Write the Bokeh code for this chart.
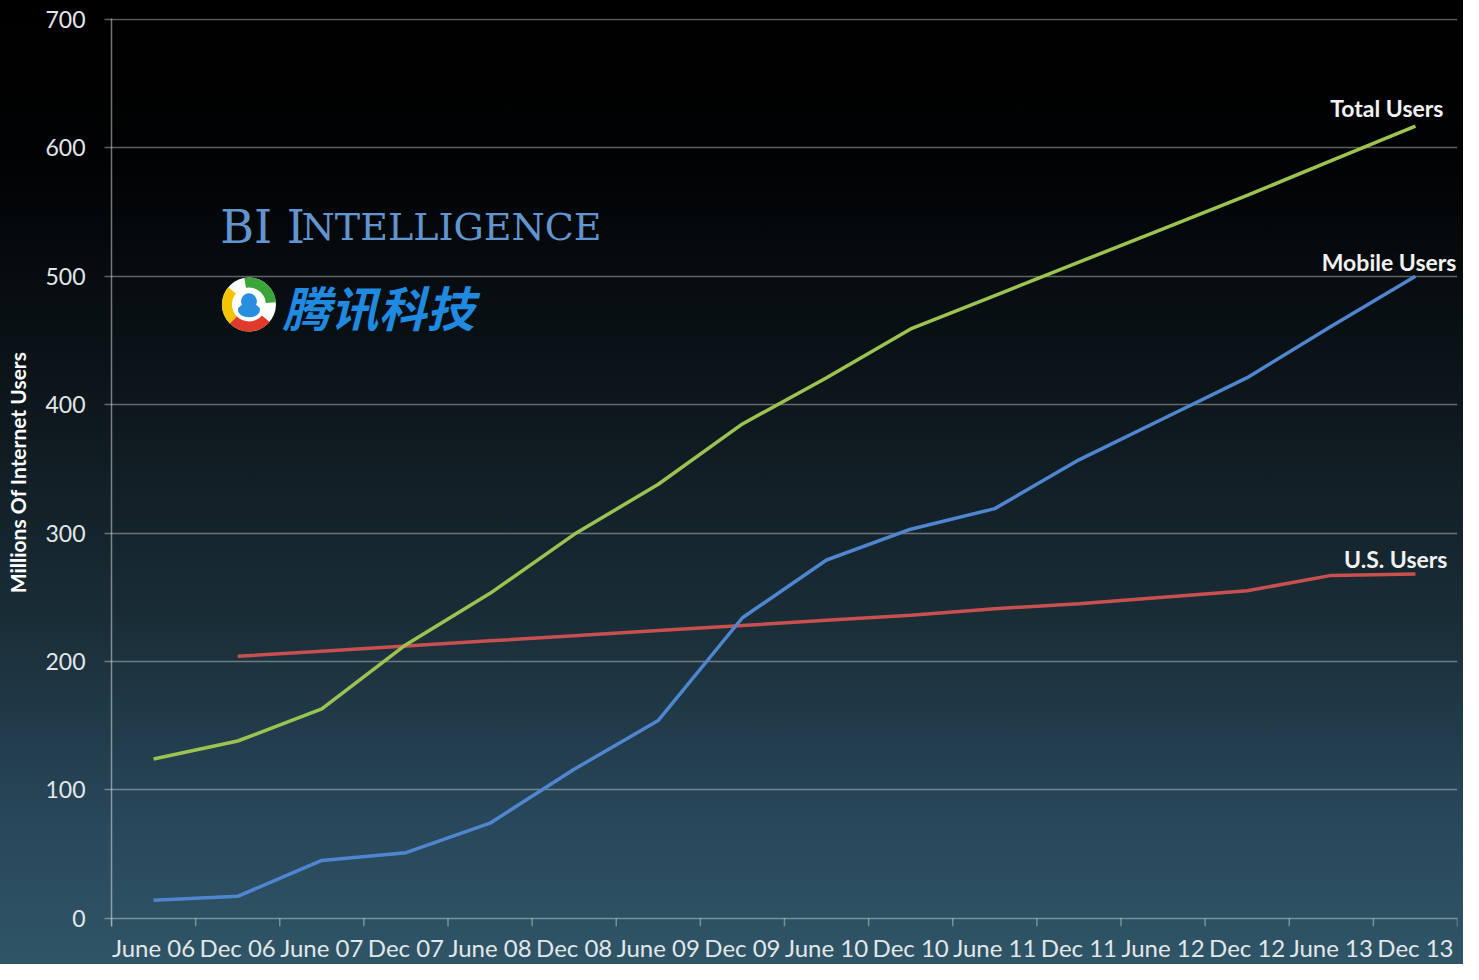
import numpy as np
from bokeh.plotting import figure
from bokeh.models import (FactorRange, Range1d, FixedTicker, ColumnDataSource, Label)
from bokeh.core.properties import value
from bokeh.transform import dodge
from bokeh.embed import file_html
from bokeh.resources import INLINE

# ---------------- data ----------------
categories = ["June 06", "Dec 06", "June 07", "Dec 07", "June 08", "Dec 08",
              "June 09", "Dec 09", "June 10", "Dec 10", "June 11", "Dec 11",
              "June 12", "Dec 12", "June 13", "Dec 13"]
total_users = [124, 138, 163, 213, 253, 299, 338, 385, 421, 459, 485, 511, 537, 563, 590, 617]
mobile_users = [14, 17, 45, 51, 74, 116, 154, 234, 279, 303, 319, 357, 389, 421, 461, 500]
us_users = [np.nan, 204, 208, 212, 216, 220, 224, 228, 232, 236, 241, 245, 250, 255, 267, 268]
y_ticks = [0, 100, 200, 300, 400, 500, 600, 700]
series_names = ["Total Users", "Mobile Users", "U.S. Users"]
y_title = "Millions Of Internet Users"

# ---------------- style ----------------
GREEN = "#9cc352"
BLUE = "#4f86cf"
RED = "#c9504f"
GRID = "#ffffff"
GRID_ALPHA = 0.36
TICK_TXT = "#e2e7ea"
FONT = "Lato"
TICK_DEPTH = -6.5   # x-axis tick marks hang below the zero line

W, H = 1463, 964
p = figure(width=W, height=H,
           x_range=FactorRange(*categories, range_padding=0, factor_padding=0),
           y_range=Range1d(TICK_DEPTH, 700.8),
           output_backend="svg", toolbar_location=None,
           x_axis_location="below", y_axis_location="left",
           min_border_left=111, min_border_right=6,
           min_border_top=18, min_border_bottom=36)

p.background_fill_color = None
p.border_fill_color = None
p.outline_line_color = None
p.styles = {"background-image":
            "linear-gradient(to bottom, #000000 0%, #010203 16%, #0c151a 40%, "
            "#1a2e38 65%, #28475a 85%, #2f5566 100%)"}

# grids
p.xgrid.visible = False
p.ygrid.grid_line_color = GRID
p.ygrid.grid_line_alpha = GRID_ALPHA
p.ygrid.grid_line_width = 1.5

# y axis
ya = p.yaxis[0]
ya.ticker = FixedTicker(ticks=y_ticks)
ya.axis_label = y_title
ya.axis_label_text_font = FONT
ya.axis_label_text_font_style = "bold"
ya.axis_label_text_font_size = "21px"
ya.axis_label_text_color = "#ffffff"
ya.axis_label_standoff = 12
ya.major_label_text_font = FONT
ya.major_label_text_font_size = "23px"
ya.major_label_text_color = TICK_TXT
ya.major_label_standoff = 19
ya.major_tick_in = 0
ya.major_tick_out = 7
ya.major_tick_line_color = GRID
ya.major_tick_line_alpha = GRID_ALPHA
ya.major_tick_line_width = 1.5
ya.minor_tick_line_color = None
ya.axis_line_color = GRID
ya.axis_line_alpha = 0.45
ya.axis_line_width = 1.5

# x axis (category labels only)
xa = p.xaxis[0]
xa.major_label_text_font = FONT
xa.major_label_text_font_size = "24px"
xa.major_label_text_color = TICK_TXT
xa.major_label_standoff = 6
xa.major_tick_line_color = None
xa.major_tick_in = 0
xa.major_tick_out = 0
xa.minor_tick_line_color = None
xa.axis_line_color = None

# boundary tick marks between categories (below the zero line)
cat_src = ColumnDataSource(dict(cat=categories))
last_src = ColumnDataSource(dict(cat=categories[-1:]))
p.segment(x0=dodge("cat", -0.5, range=p.x_range), y0=0,
          x1=dodge("cat", -0.5, range=p.x_range), y1=TICK_DEPTH,
          source=cat_src, line_color=GRID, line_alpha=GRID_ALPHA, line_width=1.5)
p.segment(x0=dodge("cat", 0.5, range=p.x_range), y0=0,
          x1=dodge("cat", 0.5, range=p.x_range), y1=TICK_DEPTH,
          source=last_src, line_color=GRID, line_alpha=GRID_ALPHA, line_width=1.5)

# ---------------- lines ----------------
src = ColumnDataSource(dict(cat=categories, total=total_users,
                            mobile=mobile_users, us=us_users))
p.line("cat", "us", source=src, line_color=RED, line_width=3.5)
p.line("cat", "mobile", source=src, line_color=BLUE, line_width=3.5)
p.line("cat", "total", source=src, line_color=GREEN, line_width=3.5)

# series labels just above the end of each line
lift = [14, 11.5, 12]       # vertical gap (in y units) between line end and text baseline
ends = [total_users[-1], mobile_users[-1], us_users[-1]]
lab_src = ColumnDataSource(dict(
    x=[categories[-1]] * 3,
    y=[e + d for e, d in zip(ends, lift)],
    t=series_names,
    xo=[28, 41, 32],
))
p.text(x="x", y="y", text="t", x_offset="xo", source=lab_src,
       text_align="right", text_baseline="alphabetic",
       text_font=value(FONT), text_font_style="bold", text_font_size="23px",
       text_color="#f2f2f2")

# ---------------- watermarks ----------------
p.add_layout(Label(x=1.293, y=538.7, text="BI I", text_font="DejaVu Serif",
                   text_font_size="46px", text_color="#6295cf",
                   text_baseline="alphabetic", text_align="left"))
p.add_layout(Label(x=2.26, y=538.7, text="NTELLIGENCE", text_font="DejaVu Serif",
                   text_font_size="38px", text_color="#6295cf",
                   text_baseline="alphabetic", text_align="left"))

# Tencent-like logo
lx, ly = 1.634, 478.0
p.circle(x=[lx], y=[ly], radius=27, radius_units="screen",
         fill_color="#ffffff", line_color=None)
p.annular_wedge(x=[lx], y=[ly], inner_radius=17, outer_radius=27,
                inner_radius_units="screen", outer_radius_units="screen",
                start_angle=np.deg2rad(5), end_angle=np.deg2rad(100),
                fill_color="#3aa63a", line_color=None)
p.annular_wedge(x=[lx], y=[ly], inner_radius=17, outer_radius=27,
                inner_radius_units="screen", outer_radius_units="screen",
                start_angle=np.deg2rad(140), end_angle=np.deg2rad(225),
                fill_color="#f2c500", line_color=None)
p.annular_wedge(x=[lx], y=[ly], inner_radius=17, outer_radius=27,
                inner_radius_units="screen", outer_radius_units="screen",
                start_angle=np.deg2rad(225), end_angle=np.deg2rad(320),
                fill_color="#e03a2a", line_color=None)
p.ellipse(x=[lx], y=[ly - 4.5], width=22, height=14,
          width_units="screen", height_units="screen",
          fill_color="#2a8ee0", line_color=None)
p.circle(x=[lx], y=[ly + 2.5], radius=8, radius_units="screen",
         fill_color="#2a8ee0", line_color=None)

p.add_layout(Label(x=2.034, y=477.0, text="腾讯科技", text_font="Noto Sans CJK SC",
                   text_font_style="bold italic", text_font_size="48px",
                   text_color="#1f8ae0", text_baseline="middle", text_align="left"))

open("out.html", "w").write(file_html(p, INLINE))
